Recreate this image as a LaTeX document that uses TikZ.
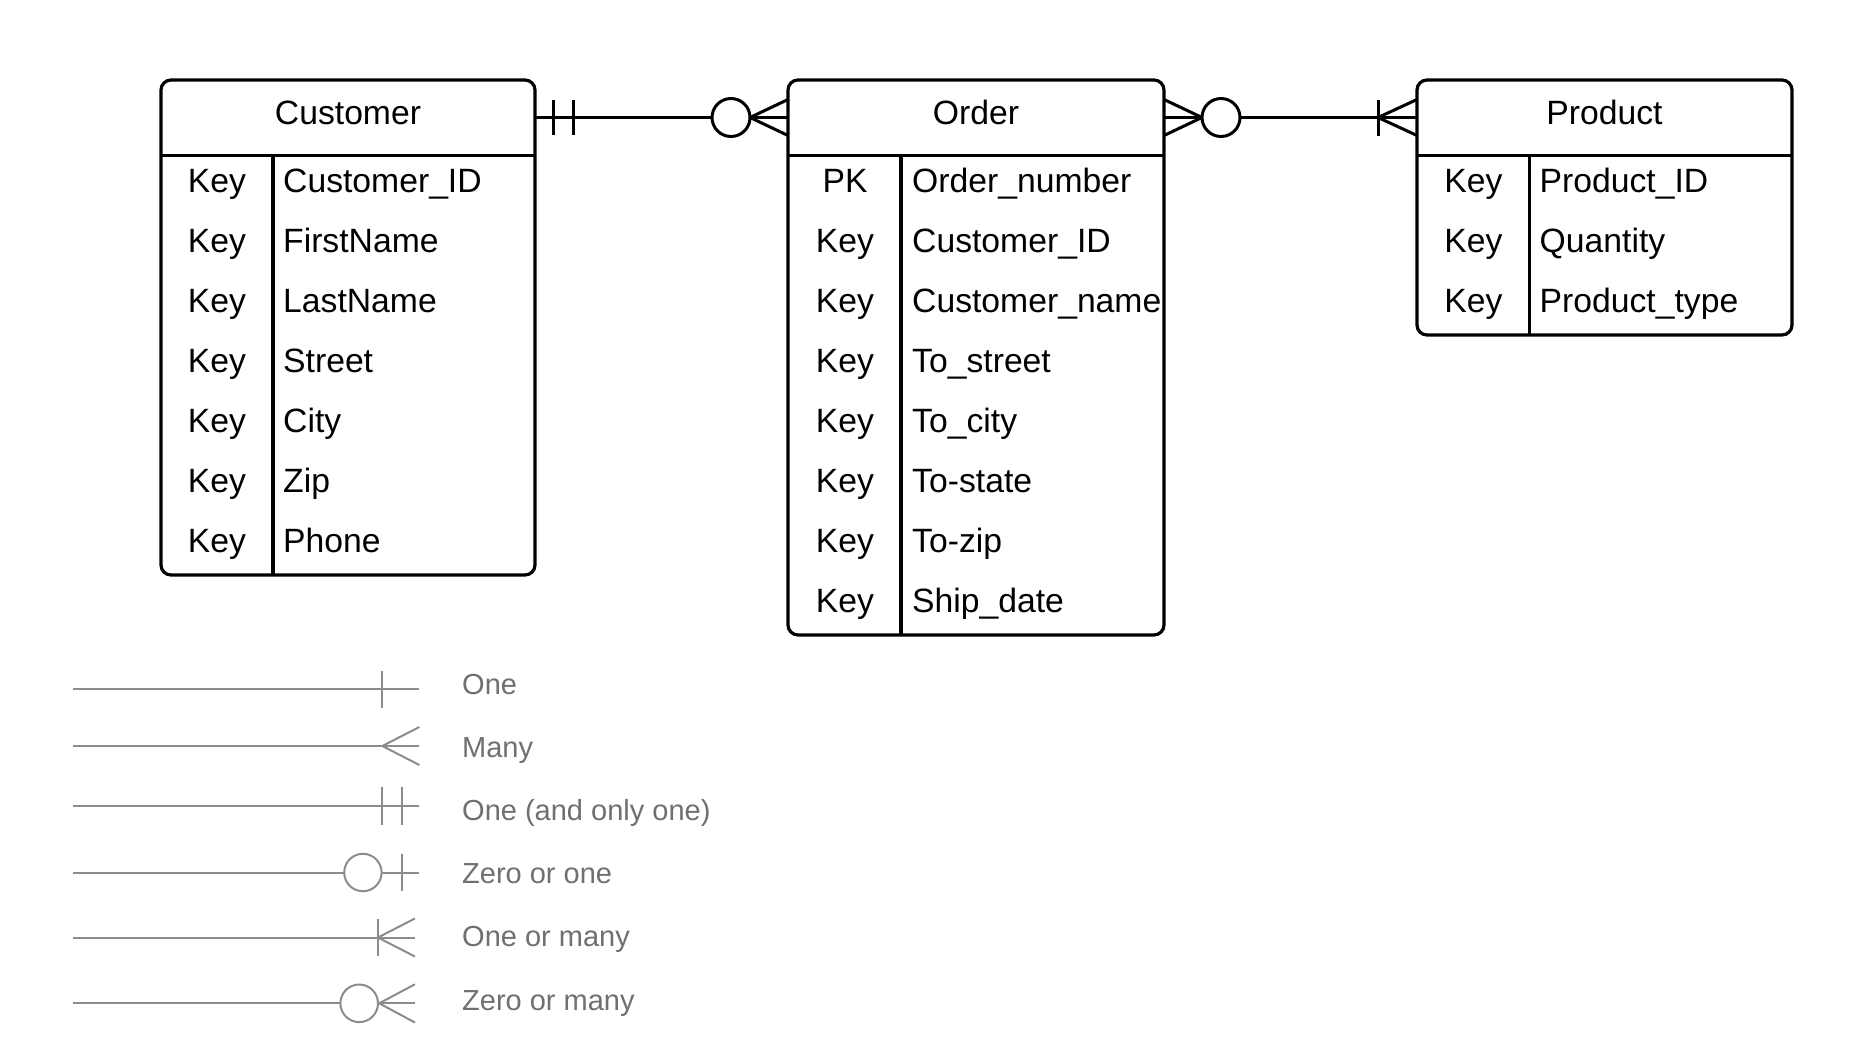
\documentclass[tikz,border=0pt]{standalone}
\usepackage{fontspec}
\setmainfont{Liberation Sans}
\definecolor{legc}{HTML}{8C8C8C}
\definecolor{legt}{HTML}{707070}
\begin{document}
\begin{tikzpicture}[x=1pt,y=-1pt,
  box/.style={draw, line width=3.2pt, rounded corners=10pt, inner sep=0pt},
  area/.style={inner sep=0pt, minimum height=75pt},
  sep/.style={line width=3.2pt},
  conn/.style={line width=3pt},
  mk/.style={line width=3pt, line join=round},
  hdr/.style={font=\fontsize{33.7}{40}\selectfont, anchor=base, inner sep=0pt},
  keytxt/.style={font=\fontsize{33.7}{40}\selectfont, anchor=base, inner sep=0pt},
  fld/.style={font=\fontsize{33.7}{40}\selectfont, anchor=base west, inner sep=0pt},
  leg/.style={line width=2pt, draw=legc, line join=round},
  legtxt/.style={font=\fontsize{29}{34}\selectfont, text=legt, anchor=base west, inner sep=0pt}]
\useasboundingbox[fill=white] (0,0) rectangle (1852,1050);

% ---------- connectors (under boxes) ----------
\node[area, minimum width=374pt] (custhead) at (348,117.5) {};
\node[area, minimum width=376pt] (ordhead) at (976,117.5) {};
\node[area, minimum width=375pt] (prodhead) at (1604.5,117.5) {};

\draw[conn] (custhead.east) -- (ordhead.west);
\draw[conn] (ordhead.east) -- (prodhead.west);

% Customer side: one and only one
\draw[mk] (553,100) -- (553,135);
\draw[mk] (573,100) -- (573,135);
% Order side: zero or many
\draw[mk, fill=white] (731,117.5) circle[radius=19];
\draw[mk] (788,99.5) -- (750,117.5) -- (788,135.5);
% Order side (right): zero or many
\draw[mk] (1164,99.5) -- (1202,117.5) -- (1164,135.5);
\draw[mk, fill=white] (1221,117.5) circle[radius=19];
% Product side: one or many
\draw[mk] (1378,99.5) -- (1378,135.5);
\draw[mk] (1417,99.5) -- (1378,117.5) -- (1417,135.5);

% ---------- Customer ----------
\node[box, minimum width=374pt, minimum height=495pt] (cust) at (348,327.5) {};
\draw[sep] (custhead.south west) -- (custhead.south east);
\draw[sep] (273,155) -- (273,575);
\node[hdr] (custtitle) at (348,124.5) {Customer};
\foreach \k/\f [count=\i] in {Key/Customer\_ID,Key/FirstName,Key/LastName,Key/Street,Key/City,Key/Zip,Key/Phone}{
  \node[keytxt] (ck\i) at (217,{192.5+60*(\i-1)}) {\k};
  \node[fld] (cf\i) at (283,{192.5+60*(\i-1)}) {\f};
}

% ---------- Order ----------
\node[box, minimum width=376pt, minimum height=555pt] (ord) at (976,357.5) {};
\draw[sep] (ordhead.south west) -- (ordhead.south east);
\draw[sep] (901,155) -- (901,635);
\node[hdr] (ordtitle) at (976,124.5) {Order};
\foreach \k/\f [count=\i] in {PK/Order\_number,Key/Customer\_ID,Key/Customer\_name,Key/To\_street,Key/To\_city,Key/To-state,Key/To-zip,Key/Ship\_date}{
  \node[keytxt] (ok\i) at (845,{192.5+60*(\i-1)}) {\k};
  \node[fld] (of\i) at (912,{192.5+60*(\i-1)}) {\f};
}

% ---------- Product ----------
\node[box, minimum width=375pt, minimum height=255pt] (prod) at (1604.5,207.5) {};
\draw[sep] (prodhead.south west) -- (prodhead.south east);
\draw[sep] (1529.5,155) -- (1529.5,335);
\node[hdr] (prodtitle) at (1604.5,124.5) {Product};
\foreach \k/\f [count=\i] in {Key/Product\_ID,Key/Quantity,Key/Product\_type}{
  \node[keytxt] (pk\i) at (1473.5,{192.5+60*(\i-1)}) {\k};
  \node[fld] (pf\i) at (1539.5,{192.5+60*(\i-1)}) {\f};
}

% ---------- Legend ----------
% One
\coordinate (l1a) at (73.4,689); \coordinate (l1b) at (419.4,689);
\draw[leg] (l1a) -- (l1b);
\draw[leg] (382.3,670.5) -- (382.3,707.5);
\node[legtxt] (t1) at (462,694) {One};
% Many
\coordinate (l2a) at (73.4,746); \coordinate (l2b) at (419.4,746);
\draw[leg] (l2a) -- (l2b);
\draw[leg] (419.4,727) -- (382.3,746) -- (419.4,765);
\node[legtxt] (t2) at (462,757) {Many};
% One (and only one)
\coordinate (l3a) at (73.4,806); \coordinate (l3b) at (419.4,806);
\draw[leg] (l3a) -- (l3b);
\draw[leg] (382.3,787) -- (382.3,825);
\draw[leg] (401.5,787) -- (401.5,825);
\node[legtxt] (t3) at (462,820) {One (and only one)};
% Zero or one
\coordinate (l4a) at (73.4,872.5); \coordinate (l4b) at (419.4,872.5);
\draw[leg] (l4a) -- (l4b);
\draw[leg, fill=white] (362.9,872.5) circle[radius=18.7];
\draw[leg] (401.5,853.5) -- (401.5,891);
\node[legtxt] (t4) at (462,883) {Zero or one};
% One or many
\coordinate (l5a) at (73.4,937.5); \coordinate (l5b) at (414.9,937.5);
\draw[leg] (l5a) -- (l5b);
\draw[leg] (377.9,919) -- (377.9,956);
\draw[leg] (414.9,918.5) -- (377.9,937.5) -- (414.9,956.5);
\node[legtxt] (t5) at (462,946.5) {One or many};
% Zero or many
\coordinate (l6a) at (73.4,1003.3); \coordinate (l6b) at (414.9,1003.3);
\draw[leg] (l6a) -- (l6b);
\draw[leg, fill=white] (359.2,1003.3) circle[radius=18.8];
\draw[leg] (414.9,984.3) -- (379.2,1003.3) -- (414.9,1022.5);
\node[legtxt] (t6) at (462,1010) {Zero or many};
\end{tikzpicture}
\end{document}
